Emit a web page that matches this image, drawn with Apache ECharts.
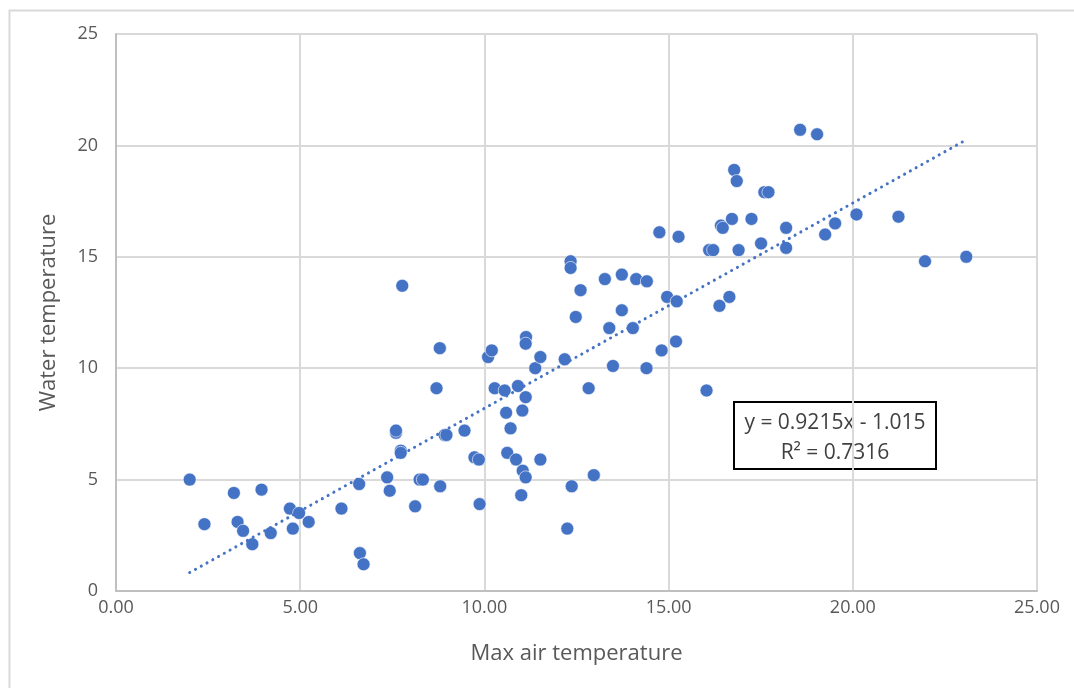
<!DOCTYPE html>
<html>
<head>
<meta charset="utf-8">
<script src="https://cdn.jsdelivr.net/npm/echarts@6/dist/echarts.min.js"></script>
<style>
html,body{margin:0;padding:0;background:#fff;}
#chart{width:1074px;height:688px;}
</style>
</head>
<body>
<div id="chart"></div>
<script>
// Max air temperature (x) and water temperature (y)
var airTemp = [
  2.0, 2.4, 3.2, 3.3, 3.45, 3.7, 3.95, 4.2, 4.72, 4.8,
  4.97, 5.23, 6.12, 6.6, 6.62, 6.72, 7.36, 7.43, 7.6, 7.6,
  7.73, 7.73, 7.77, 8.12, 8.24, 8.33, 8.7, 8.79, 8.8, 8.92,
  8.97, 9.46, 9.73, 9.85, 9.87, 10.1, 10.2, 10.28, 10.55, 10.91,
  10.59, 10.71, 10.62, 10.86, 11.04, 11.12, 11.0, 11.12, 11.03, 11.13,
  11.12, 11.38, 11.52, 11.52, 12.18, 12.25, 12.37, 12.34, 12.34, 12.61,
  12.48, 12.83, 12.97, 13.27, 13.73, 14.12, 14.41, 13.39, 13.73, 14.03,
  13.49, 14.4, 14.81, 15.2, 14.96, 15.22, 14.75, 15.27, 16.03, 16.1,
  16.21, 16.38, 16.65, 16.42, 16.47, 16.9, 18.57, 19.03, 16.78, 16.85,
  17.6, 17.71, 16.72, 17.25, 18.19, 17.51, 18.19, 19.25, 19.52, 20.1,
  21.24, 21.96, 23.08
];
var waterTemp = [
  5.0, 3.0, 4.4, 3.1, 2.7, 2.1, 4.55, 2.6, 3.7, 2.8,
  3.5, 3.1, 3.7, 4.8, 1.7, 1.2, 5.1, 4.5, 7.1, 7.2,
  6.3, 6.2, 13.7, 3.8, 5.0, 5.0, 9.1, 10.9, 4.7, 7.0,
  7.0, 7.2, 6.0, 5.9, 3.9, 10.5, 10.8, 9.1, 9.0, 9.2,
  8.0, 7.3, 6.2, 5.9, 5.4, 5.1, 4.3, 8.7, 8.1, 11.4,
  11.1, 10.0, 10.5, 5.9, 10.4, 2.8, 4.7, 14.8, 14.5, 13.5,
  12.3, 9.1, 5.2, 14.0, 14.2, 14.0, 13.9, 11.8, 12.6, 11.8,
  10.1, 10.0, 10.8, 11.2, 13.2, 13.0, 16.1, 15.9, 9.0, 15.3,
  15.3, 12.8, 13.2, 16.4, 16.3, 15.3, 20.7, 20.5, 18.9, 18.4,
  17.9, 17.9, 16.7, 16.7, 16.3, 15.6, 15.4, 16.0, 16.5, 16.9,
  16.8, 14.8, 15.0
];
// Linear trendline as reported in the chart
var trendSlope = 0.9215;
var trendIntercept = -1.015;
var trendLabel = ['y = 0.9215x - 1.015', 'R\u00B2 = 0.7316'];

var xTicks = [0, 5, 10, 15, 20, 25];
var yTicks = [0, 5, 10, 15, 20, 25];

var points = airTemp.map(function (x, i) { return [x, waterTemp[i]]; });
var xMin = Math.min.apply(null, airTemp);
var xMax = Math.max.apply(null, airTemp);
var trend = [[xMin, trendSlope * xMin + trendIntercept], [xMax, trendSlope * xMax + trendIntercept]];

var FONT = '"Open Sans", "Noto Sans", sans-serif';
var chart = echarts.init(document.getElementById('chart'), null, {renderer: 'canvas'});
chart.setOption({
  backgroundColor: '#ffffff',
  animation: false,
  grid: {left: 116, right: 37, top: 34, bottom: 97, containLabel: false},
  xAxis: {
    type: 'value', min: xTicks[0], max: xTicks[xTicks.length - 1], interval: 5,
    name: 'Max air temperature', nameLocation: 'middle', nameGap: 52,
    nameTextStyle: {color: '#595959', fontSize: 22, fontFamily: FONT},
    axisLine: {show: true, lineStyle: {color: '#bfbfbf', width: 2}},
    axisTick: {show: false},
    axisLabel: {color: '#595959', fontSize: 18, fontFamily: FONT, margin: 8,
      formatter: function (v) { return v.toFixed(2); }},
    splitLine: {show: true, lineStyle: {color: '#d9d9d9', width: 2}}
  },
  yAxis: {
    type: 'value', min: yTicks[0], max: yTicks[yTicks.length - 1], interval: 5,
    name: 'Water temperature', nameLocation: 'middle', nameGap: 56, nameRotate: 90,
    nameTextStyle: {color: '#595959', fontSize: 22, fontFamily: FONT},
    axisLine: {show: true, lineStyle: {color: '#bfbfbf', width: 2}},
    axisTick: {show: false},
    axisLabel: {color: '#595959', fontSize: 18, fontFamily: FONT, margin: 18},
    splitLine: {show: true, lineStyle: {color: '#d9d9d9', width: 2}}
  },
  series: [
    {
      type: 'scatter', data: points, symbol: 'circle', symbolSize: 13,
      itemStyle: {color: '#4472c4', borderColor: '#ffffff', borderWidth: 0.6, opacity: 1},
      z: 3
    },
    {
      type: 'line', data: trend, showSymbol: false, symbol: 'none',
      lineStyle: {color: '#4472c4', width: 3, type: [0.1, 6.5], cap: 'round'},
      z: 4, silent: true
    }
  ],
  graphic: [
    {type: 'rect', left: 7, top: 8, shape: {width: 1100, height: 700},
      style: {fill: 'none', stroke: '#d9d9d9', lineWidth: 2}, silent: true, z: 0},
    {type: 'group', left: 733, top: 401, z: 10, children: [
      {type: 'rect', shape: {x: 0, y: 0, width: 202, height: 67},
        style: {fill: '#ffffff', stroke: '#000000', lineWidth: 2}},
      {type: 'text', x: 101, y: 21, style: {text: trendLabel[0], fill: '#404040',
        font: '21px ' + FONT, align: 'center', verticalAlign: 'middle'}},
      {type: 'text', x: 101, y: 51, style: {text: trendLabel[1], fill: '#404040',
        font: '21px ' + FONT, align: 'center', verticalAlign: 'middle'}}
    ]}
  ]
});
</script>
</body>
</html>
